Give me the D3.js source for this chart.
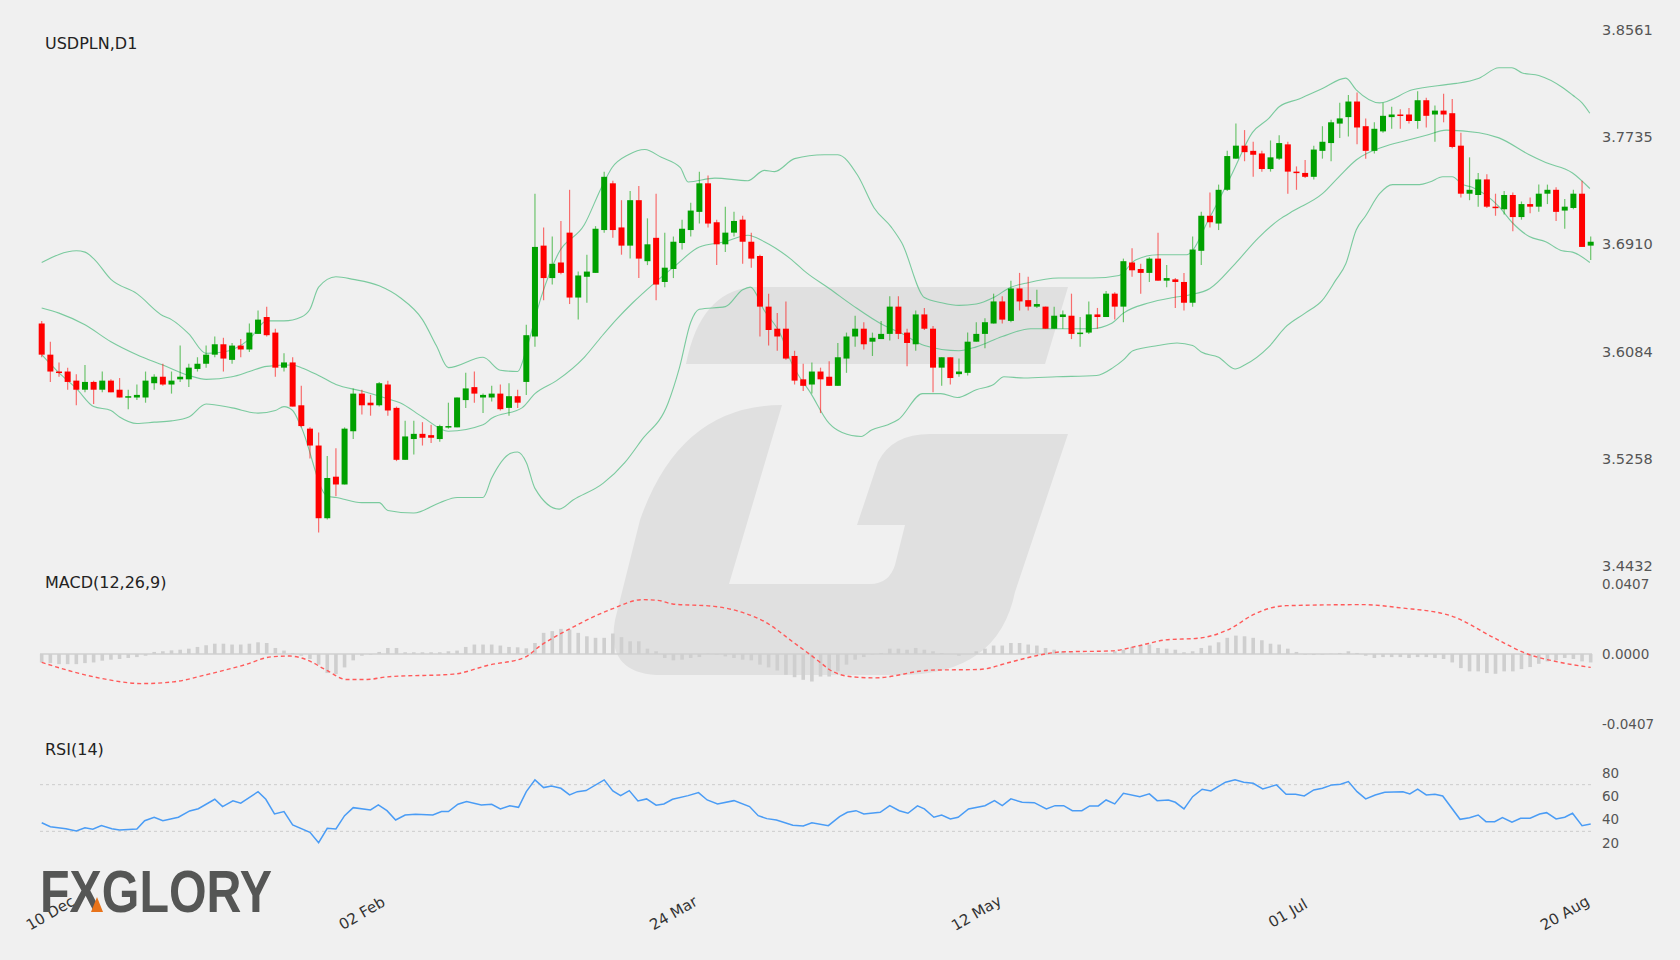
<!DOCTYPE html>
<html><head><meta charset="utf-8">
<script src="https://cdn.jsdelivr.net/npm/d3@7"></script>
<style>body{margin:0;background:#f0f0f0;}svg{display:block;font-family:"DejaVu Sans",sans-serif;}</style>
</head><body>
<svg id="c" width="1680" height="960"></svg>
<script>
const open=[3.630,3.606,3.593,3.593,3.586,3.579,3.585,3.579,3.586,3.579,3.573,3.573,3.573,3.584,3.589,3.583,3.587,3.587,3.595,3.599,3.606,3.614,3.602,3.613,3.610,3.622,3.635,3.623,3.596,3.600,3.567,3.549,3.536,3.480,3.512,3.506,3.547,3.576,3.569,3.567,3.583,3.565,3.525,3.541,3.545,3.544,3.541,3.550,3.550,3.571,3.581,3.573,3.573,3.576,3.565,3.574,3.585,3.620,3.690,3.665,3.677,3.700,3.650,3.666,3.669,3.702,3.738,3.704,3.690,3.725,3.678,3.696,3.662,3.672,3.692,3.702,3.716,3.738,3.708,3.691,3.700,3.710,3.693,3.682,3.643,3.626,3.626,3.605,3.587,3.583,3.593,3.589,3.582,3.603,3.620,3.626,3.616,3.618,3.622,3.643,3.623,3.614,3.637,3.626,3.596,3.604,3.591,3.592,3.616,3.622,3.630,3.647,3.632,3.657,3.648,3.643,3.643,3.626,3.635,3.636,3.622,3.623,3.637,3.635,3.653,3.643,3.677,3.672,3.669,3.680,3.663,3.664,3.662,3.646,3.686,3.713,3.707,3.733,3.757,3.767,3.763,3.761,3.749,3.757,3.768,3.747,3.746,3.743,3.763,3.769,3.784,3.789,3.801,3.782,3.763,3.778,3.789,3.791,3.791,3.786,3.802,3.791,3.794,3.792,3.767,3.730,3.729,3.741,3.720,3.718,3.729,3.712,3.722,3.720,3.730,3.733,3.717,3.719,3.730,3.690];
const high=[3.632,3.616,3.600,3.596,3.591,3.598,3.586,3.593,3.587,3.588,3.579,3.583,3.593,3.591,3.599,3.593,3.613,3.599,3.604,3.613,3.620,3.619,3.615,3.618,3.630,3.640,3.643,3.626,3.607,3.604,3.582,3.550,3.546,3.528,3.534,3.550,3.580,3.579,3.575,3.585,3.586,3.566,3.555,3.555,3.554,3.552,3.552,3.569,3.573,3.592,3.593,3.576,3.582,3.583,3.584,3.579,3.629,3.730,3.704,3.697,3.709,3.733,3.670,3.683,3.705,3.747,3.740,3.725,3.732,3.736,3.711,3.730,3.700,3.697,3.710,3.723,3.747,3.744,3.710,3.720,3.716,3.713,3.700,3.683,3.653,3.638,3.647,3.609,3.599,3.600,3.596,3.601,3.615,3.623,3.636,3.631,3.623,3.632,3.651,3.651,3.626,3.640,3.642,3.628,3.604,3.604,3.603,3.623,3.631,3.634,3.653,3.651,3.663,3.669,3.666,3.656,3.643,3.643,3.640,3.653,3.635,3.647,3.642,3.655,3.654,3.680,3.688,3.676,3.681,3.700,3.675,3.665,3.669,3.697,3.716,3.731,3.737,3.763,3.784,3.779,3.770,3.763,3.771,3.775,3.770,3.751,3.756,3.767,3.782,3.787,3.800,3.806,3.808,3.788,3.785,3.800,3.797,3.795,3.796,3.809,3.804,3.798,3.807,3.803,3.777,3.758,3.746,3.745,3.730,3.732,3.731,3.724,3.727,3.737,3.737,3.735,3.726,3.733,3.740,3.697];
const low=[3.604,3.585,3.589,3.579,3.567,3.577,3.568,3.577,3.577,3.573,3.564,3.571,3.569,3.579,3.582,3.576,3.585,3.581,3.593,3.596,3.604,3.593,3.599,3.604,3.608,3.622,3.620,3.589,3.593,3.566,3.550,3.526,3.469,3.479,3.497,3.506,3.541,3.560,3.559,3.566,3.559,3.524,3.525,3.529,3.536,3.538,3.539,3.549,3.550,3.565,3.569,3.561,3.570,3.563,3.559,3.565,3.575,3.612,3.648,3.660,3.668,3.645,3.633,3.646,3.669,3.700,3.696,3.683,3.680,3.665,3.675,3.648,3.658,3.665,3.687,3.697,3.707,3.704,3.675,3.685,3.697,3.676,3.673,3.620,3.613,3.609,3.602,3.583,3.578,3.576,3.561,3.582,3.582,3.592,3.612,3.610,3.605,3.618,3.617,3.618,3.597,3.609,3.625,3.577,3.582,3.583,3.589,3.590,3.616,3.611,3.630,3.630,3.631,3.640,3.640,3.642,3.626,3.626,3.626,3.618,3.612,3.622,3.626,3.635,3.633,3.631,3.666,3.653,3.662,3.663,3.658,3.642,3.640,3.643,3.675,3.704,3.702,3.732,3.757,3.755,3.743,3.747,3.747,3.756,3.730,3.733,3.742,3.741,3.757,3.755,3.773,3.774,3.768,3.757,3.761,3.777,3.780,3.780,3.784,3.780,3.781,3.770,3.785,3.765,3.727,3.725,3.720,3.719,3.713,3.714,3.701,3.710,3.715,3.716,3.722,3.709,3.703,3.718,3.689,3.679];
const close=[3.606,3.593,3.592,3.585,3.579,3.585,3.579,3.586,3.577,3.573,3.574,3.575,3.586,3.589,3.583,3.586,3.589,3.596,3.599,3.606,3.614,3.603,3.613,3.610,3.623,3.633,3.621,3.596,3.600,3.566,3.551,3.536,3.480,3.511,3.506,3.549,3.576,3.567,3.567,3.584,3.563,3.525,3.543,3.545,3.542,3.542,3.551,3.551,3.573,3.580,3.576,3.575,3.576,3.564,3.574,3.569,3.621,3.689,3.665,3.676,3.669,3.650,3.667,3.670,3.703,3.743,3.702,3.690,3.725,3.680,3.691,3.660,3.673,3.693,3.703,3.717,3.738,3.707,3.691,3.700,3.709,3.693,3.680,3.643,3.625,3.620,3.603,3.586,3.582,3.593,3.587,3.582,3.604,3.620,3.626,3.614,3.619,3.622,3.643,3.622,3.615,3.637,3.626,3.596,3.604,3.588,3.593,3.616,3.622,3.631,3.647,3.633,3.657,3.647,3.643,3.645,3.626,3.636,3.637,3.622,3.623,3.637,3.635,3.653,3.643,3.678,3.671,3.669,3.680,3.663,3.665,3.662,3.646,3.687,3.713,3.708,3.733,3.759,3.767,3.762,3.760,3.749,3.758,3.769,3.747,3.746,3.743,3.764,3.770,3.785,3.788,3.801,3.781,3.763,3.780,3.790,3.791,3.790,3.786,3.802,3.790,3.794,3.791,3.766,3.730,3.733,3.741,3.720,3.719,3.729,3.712,3.722,3.720,3.730,3.733,3.716,3.720,3.730,3.689,3.693];

const bbUpper=[[0,3.677],[4,3.686],[5,3.685],[6,3.680],[8,3.664],[11,3.653],[14,3.636],[15,3.633],[17,3.622],[19,3.607],[21,3.608],[24,3.618],[26,3.632],[28,3.632],[30,3.635],[31,3.641],[32,3.658],[34,3.666],[36,3.664],[39,3.659],[41.4,3.650],[44,3.633],[45.6,3.613],[47,3.596],[51,3.604],[53,3.594],[55,3.593],[56,3.610],[57.7,3.650],[59.7,3.684],[62.7,3.706],[64.7,3.735],[65.9,3.750],[67.8,3.760],[69.7,3.764],[71.6,3.758],[73.8,3.750],[74.7,3.739],[77.8,3.742],[81.6,3.740],[83.5,3.748],[84.7,3.747],[87,3.757],[90.4,3.760],[92,3.760],[94.3,3.744],[96.2,3.719],[98.2,3.704],[99.4,3.692],[102,3.650],[104,3.646],[106,3.644],[108,3.645],[110,3.650],[112,3.658],[113.7,3.661],[117.5,3.665],[121.4,3.665],[124.5,3.667],[126.4,3.679],[129,3.683],[132.3,3.683],[135,3.712],[137.6,3.746],[139.9,3.777],[141.8,3.788],[143,3.797],[145.3,3.803],[148,3.811],[150.7,3.819],[151.9,3.810],[154.6,3.800],[158.4,3.810],[162.3,3.814],[163.5,3.815],[166.1,3.819],[168.4,3.827],[169.9,3.827],[171.1,3.823],[173,3.821],[175.7,3.812],[176.9,3.806],[178,3.800],[178.9,3.792]];
const bbMiddle=[[0,3.642],[2,3.638],[5,3.629],[8,3.616],[11,3.606],[14,3.598],[17,3.590],[19,3.587],[22,3.589],[24,3.593],[26,3.597],[29,3.598],[30,3.596],[32,3.590],[34,3.583],[37,3.578],[40,3.572],[41.4,3.569],[44,3.558],[47,3.547],[51,3.552],[52,3.557],[55.5,3.565],[57,3.576],[59.5,3.586],[62.7,3.604],[64.7,3.620],[66.4,3.633],[68.3,3.646],[70.6,3.660],[73.3,3.675],[76,3.689],[79,3.693],[81.6,3.698],[83.5,3.693],[86.5,3.680],[88.4,3.669],[91,3.657],[93.7,3.644],[97.2,3.629],[99.2,3.623],[102,3.613],[106,3.609],[108,3.612],[111,3.620],[114.3,3.626],[116.9,3.626],[121.3,3.626],[123.6,3.630],[125,3.638],[128,3.646],[130.8,3.650],[132.6,3.652],[135,3.657],[137.9,3.676],[140.6,3.696],[143,3.710],[144.7,3.717],[148,3.730],[149.9,3.743],[151.9,3.756],[155,3.766],[157.7,3.771],[160,3.775],[162.3,3.779],[166.1,3.777],[168.4,3.773],[171.9,3.760],[173.8,3.754],[176.9,3.746],[178.9,3.734]];
const bbLower=[[0,3.606],[2,3.592],[4,3.580],[6,3.566],[8,3.563],[9,3.558],[11,3.553],[13,3.554],[15,3.555],[17,3.558],[19,3.568],[22,3.565],[25,3.561],[27,3.563],[28,3.566],[29,3.563],[30,3.550],[33,3.497],[34,3.496],[37,3.492],[39,3.492],[40,3.486],[43,3.484],[46,3.492],[48,3.496],[51,3.496],[52,3.511],[54.2,3.530],[55,3.531],[56,3.523],[57,3.503],[59.8,3.487],[61.4,3.494],[64.9,3.507],[67.4,3.523],[69.3,3.540],[72.4,3.569],[73.7,3.596],[75,3.631],[76,3.641],[79,3.643],[81,3.656],[81.9,3.658],[83.5,3.640],[85.5,3.620],[86.5,3.602],[88.9,3.576],[91,3.553],[92.5,3.546],[94.7,3.543],[95.9,3.548],[97.8,3.552],[99,3.556],[101.8,3.576],[103.9,3.576],[105.8,3.573],[108,3.579],[110,3.583],[111.2,3.589],[113.5,3.588],[117.3,3.589],[121.9,3.590],[123.8,3.596],[125,3.602],[126.1,3.609],[129,3.613],[131.2,3.615],[133,3.613],[134,3.608],[136,3.604],[137.9,3.595],[139,3.598],[141.8,3.612],[143.7,3.627],[146,3.638],[148,3.648],[149.5,3.663],[150.7,3.676],[151.9,3.702],[153,3.713],[154.6,3.730],[156.1,3.737],[159.2,3.737],[160.4,3.739],[161.9,3.743],[163,3.743],[164.2,3.737],[165.3,3.735],[168.4,3.720],[169.9,3.708],[171.9,3.697],[173.8,3.693],[175.7,3.686],[176.9,3.685],[178.9,3.677]];

const macdHist=[-0.0049,-0.0053,-0.0059,-0.0059,-0.0059,-0.0053,-0.0049,-0.0039,-0.0033,-0.0029,-0.0023,-0.0018,-0.0010,0.0012,0.0016,0.0021,0.0025,0.0031,0.0041,0.0051,0.0060,0.0060,0.0055,0.0055,0.0060,0.0068,0.0064,0.0035,0.0020,0.0006,-0.0010,-0.0029,-0.0062,-0.0111,-0.0117,-0.0078,-0.0037,-0.0010,-0.0004,0.0012,0.0035,0.0035,0.0010,0.0010,0.0010,0.0010,0.0010,0.0016,0.0020,0.0041,0.0055,0.0055,0.0055,0.0049,0.0041,0.0039,0.0033,0.0064,0.0123,0.0133,0.0146,0.0142,0.0123,0.0103,0.0094,0.0094,0.0119,0.0098,0.0074,0.0074,0.0031,0.0016,-0.0023,-0.0037,-0.0033,-0.0023,-0.0018,0.0002,-0.0004,-0.0014,-0.0023,-0.0033,-0.0037,-0.0062,-0.0078,-0.0096,-0.0121,-0.0135,-0.0150,-0.0160,-0.0131,-0.0131,-0.0101,-0.0062,-0.0033,-0.0018,-0.0004,0.0006,0.0031,0.0031,0.0025,0.0035,0.0025,0.0016,0.0006,0.0000,-0.0010,0.0000,0.0016,0.0031,0.0049,0.0049,0.0064,0.0064,0.0055,0.0049,0.0035,0.0025,0.0016,0.0010,0.0006,0.0006,0.0002,0.0006,0.0016,0.0025,0.0041,0.0051,0.0055,0.0035,0.0031,0.0025,0.0010,0.0016,0.0035,0.0049,0.0068,0.0094,0.0107,0.0103,0.0094,0.0080,0.0060,0.0055,0.0031,0.0012,-0.0004,-0.0006,-0.0004,0.0002,0.0006,0.0016,0.0006,-0.0010,-0.0023,-0.0018,-0.0018,-0.0018,-0.0023,-0.0018,-0.0018,-0.0023,-0.0029,-0.0049,-0.0082,-0.0101,-0.0101,-0.0111,-0.0115,-0.0101,-0.0101,-0.0088,-0.0076,-0.0057,-0.0043,-0.0037,-0.0023,-0.0029,-0.0043,-0.0049];
const macdSignal=[[0,-0.0049],[6.9,-0.0142],[11.6,-0.0172],[15.2,-0.0162],[19.3,-0.0117],[23.4,-0.0064],[26.6,-0.0016],[28.7,-0.0012],[30.5,-0.0031],[32.9,-0.0094],[35.2,-0.0148],[37.6,-0.0148],[39.9,-0.0133],[47.6,-0.0117],[51.7,-0.0064],[55.8,-0.0020],[57.6,0.0047],[61.2,0.0151],[65.9,0.0262],[69.4,0.0316],[71.2,0.0312],[72.9,0.0291],[77.7,0.0277],[81.2,0.0238],[83.5,0.0189],[87,0.0063],[90,-0.0050],[91,-0.0090],[93.7,-0.0133],[96.3,-0.0139],[102.7,-0.0094],[108.3,-0.0090],[112.1,-0.0045],[115.3,-0.0006],[117.8,0.0012],[123.6,0.0018],[126.7,0.0047],[129.9,0.0082],[133.7,0.0092],[137.5,0.0151],[140,0.0229],[143.8,0.0281],[152.7,0.0287],[157.1,0.0268],[162.8,0.0223],[167.9,0.0092],[171.7,0.0000],[175.5,-0.0049],[179,-0.0078]];
const rsi=[[0,37.4],[1,34.0],[2.8,32.3],[4,30.3],[5,33.1],[5.9,31.8],[6.9,34.9],[8.1,32.3],[9,31.2],[11,32.0],[11.9,39.1],[13,42.1],[14,39.1],[15.8,42.1],[17.1,47.5],[18.1,49.4],[20,57.5],[20.9,51.2],[22.1,56.1],[23,54.1],[25,64.0],[25.9,57.5],[26.9,44.9],[28,46.9],[29,35.5],[31,29.2],[32,20.3],[33,32.6],[34,32.0],[35,43.4],[36,50.3],[38,48.3],[38.9,52.6],[39.9,47.7],[40.9,39.7],[42,44.0],[43.2,44.6],[45.2,44.0],[46.2,46.9],[47,46.9],[48.1,53.2],[49.1,55.5],[50.8,52.6],[52,53.2],[53,49.2],[54.1,52.0],[55.1,50.6],[56,64.0],[57,74.1],[58,67.5],[58.9,68.9],[60,66.9],[61,61.2],[61.9,64.0],[62.9,64.9],[65,74.1],[66,64.6],[66.9,60.6],[67.9,64.9],[68.9,56.1],[69.9,57.8],[71,52.4],[71.9,53.5],[72.9,57.5],[74.7,60.6],[75.9,63.2],[76.9,56.9],[78.1,53.5],[80,56.3],[81.8,51.2],[82.8,43.4],[83.8,40.9],[84.9,39.7],[86.8,35.2],[88,34.6],[89,37.4],[90.9,34.9],[92.2,42.6],[93.1,46.3],[94.1,47.7],[95,44.9],[96.9,46.3],[98,52.0],[99.1,47.7],[100.1,45.5],[101.2,51.8],[102,49.2],[103.1,42.1],[104,44.0],[105,40.6],[105.9,42.1],[107.1,49.2],[109,52.0],[110.1,56.3],[111,52.0],[112,57.8],[113.3,54.9],[114.7,54.6],[116.1,49.2],[117.1,52.0],[118.1,52.0],[119.1,47.7],[120.2,47.7],[121.1,51.8],[122.1,51.8],[123,56.9],[124,53.5],[125,62.6],[126.9,59.7],[128,62.1],[128.9,56.3],[130.2,56.9],[131,54.9],[132,49.2],[133,59.7],[134.1,66.1],[135.1,64.6],[136.8,72.1],[137.9,74.1],[138.9,72.1],[140,71.2],[141.1,66.4],[142.7,69.8],[143.8,61.8],[144.9,61.8],[145.9,60.3],[147,65.5],[148,66.9],[149.1,69.8],[150.1,70.4],[151,72.6],[152,64.0],[153,57.8],[154.1,61.2],[155.2,63.5],[157.3,64.0],[158.1,62.1],[159,66.1],[160,61.2],[161,61.8],[161.9,60.3],[163.9,40.3],[165,41.7],[166,44.0],[166.9,38.3],[167.9,38.3],[168.8,41.7],[169.9,37.8],[170.9,41.2],[172,41.2],[173.1,44.9],[173.9,46.0],[175,40.6],[176,42.1],[176.9,45.5],[178,34.9],[179,36.3]];

const priceTicks=[3.8561,3.7735,3.6910,3.6084,3.5258,3.4432];
const macdTicks=[0.0407,0,-0.0407];
const rsiTicks=[80,60,40,20];
const rsiLevels=[70,30];
const dateLabels=[[1,"10 Dec"],[37,"02 Feb"],[73,"24 Mar"],[108,"12 May"],[144,"01 Jul"],[176,"20 Aug"]];

const svg=d3.select("#c");
svg.append("rect").attr("width",1680).attr("height",960).attr("fill","#f0f0f0");
// watermark
const wm=svg.append("g").attr("fill","#e0e0e0");
wm.append("path").attr("d","M752,287 L1068,287 L1045,364 L686,364 Q700,292 752,287 Z");
wm.append("path").attr("d","M782,405 L729,584 L870,584 Q889,584 895,565 L905,525 L857,525 L878,462 Q892,434 930,434 L1068,434 L1015,592 Q998,675 900,675 L662,675 Q605,675 615,620 L640,520 Q680,405 782,405 Z");

const x=d3.scaleLinear().domain([0,179]).range([41.7,1590.7]);
const y=d3.scaleLinear().domain([3.4432,3.8561]).range([566,30]);
const ym=d3.scaleLinear().domain([-0.0407,0.0407]).range([724,584]);
const yr=d3.scaleLinear().domain([20,80]).range([843,773]);

// axis labels
const axG=svg.append("g").attr("font-size",14.5).attr("fill","#555");
priceTicks.forEach(t=>axG.append("text").attr("x",1602).attr("y",y(t)).attr("dy","0.35em").text(t.toFixed(4)));
macdTicks.forEach(t=>axG.append("text").attr("x",1602).attr("y",ym(t)).attr("dy","0.35em").attr("font-size",13.5).text(t.toFixed(4)));
rsiTicks.forEach(t=>axG.append("text").attr("x",1602).attr("y",yr(t)).attr("dy","0.35em").attr("font-size",13.5).text(t));

svg.append("text").attr("x",45).attr("y",43).attr("dy","0.35em").attr("font-size",16).attr("fill","#222").text("USDPLN,D1");
svg.append("text").attr("x",45).attr("y",582).attr("dy","0.35em").attr("font-size",16).attr("fill","#222").text("MACD(12,26,9)");
svg.append("text").attr("x",45).attr("y",749).attr("dy","0.35em").attr("font-size",16).attr("fill","#222").text("RSI(14)");

// bollinger
const bl=d3.line().x(d=>x(d[0])).y(d=>y(d[1])).curve(d3.curveMonotoneX);
[bbUpper,bbMiddle,bbLower].forEach(b=>svg.append("path").attr("d",bl(b)).attr("fill","none").attr("stroke","#5cc08a").attr("stroke-opacity",0.8).attr("stroke-width",1.1));

// candles
const idx=d3.range(open.length);
const cg=svg.append("g");
idx.forEach(i=>{
  const up=close[i]>=open[i];
  const col=up?"#00a000":"#ff0000";
  cg.append("line").attr("x1",x(i)).attr("x2",x(i)).attr("y1",y(high[i])).attr("y2",y(low[i])).attr("stroke",col).attr("stroke-opacity",0.55).attr("stroke-width",1.2);
  const t=y(Math.max(open[i],close[i])), b=y(Math.min(open[i],close[i]));
  cg.append("rect").attr("x",x(i)-3).attr("width",6).attr("y",t).attr("height",Math.max(1.5,b-t)).attr("fill",col);
});

// MACD
svg.append("line").attr("x1",40).attr("x2",1592).attr("y1",ym(0)).attr("y2",ym(0)).attr("stroke","#d0d0d0").attr("stroke-width",1.5);
svg.append("g").selectAll("rect").data(macdHist).join("rect")
  .attr("x",(d,i)=>x(i)-1.8).attr("width",3.6)
  .attr("y",d=>Math.min(ym(d),ym(0))).attr("height",d=>Math.abs(ym(d)-ym(0)))
  .attr("fill","#cfcfcf");
svg.append("path").attr("d",d3.line().x(d=>x(d[0])).y(d=>ym(d[1])).curve(d3.curveMonotoneX)(macdSignal))
  .attr("fill","none").attr("stroke","#ff5a5a").attr("stroke-width",1.4).attr("stroke-dasharray","4,3");

// RSI
rsiLevels.forEach(l=>svg.append("line").attr("x1",40).attr("x2",1592).attr("y1",yr(l)).attr("y2",yr(l)).attr("stroke","#cccccc").attr("stroke-dasharray","3,3"));
svg.append("path").attr("d",d3.line().x(d=>x(d[0])).y(d=>yr(d[1]))(rsi)).attr("fill","none").attr("stroke","#4a9cf5").attr("stroke-width",1.5);

// date labels
dateLabels.forEach(([i,t])=>svg.append("text").attr("transform",`translate(${x(i)},${913}) rotate(-30)`).attr("text-anchor","middle").attr("dy","0.35em").attr("font-size",15).attr("fill","#333").text(t));

// logo
const lg=svg.append("g");
lg.append("text").attr("x",40).attr("y",912).attr("font-family","'Liberation Sans',Arial,sans-serif").attr("font-weight","bold").attr("font-size",60).attr("fill","#555655").attr("textLength",232).attr("lengthAdjust","spacingAndGlyphs").text("FXGLORY");
lg.append("path").attr("d","M91,912 L97,897 L103,912 Z").attr("fill","#e8731a");
</script>
</body></html>
